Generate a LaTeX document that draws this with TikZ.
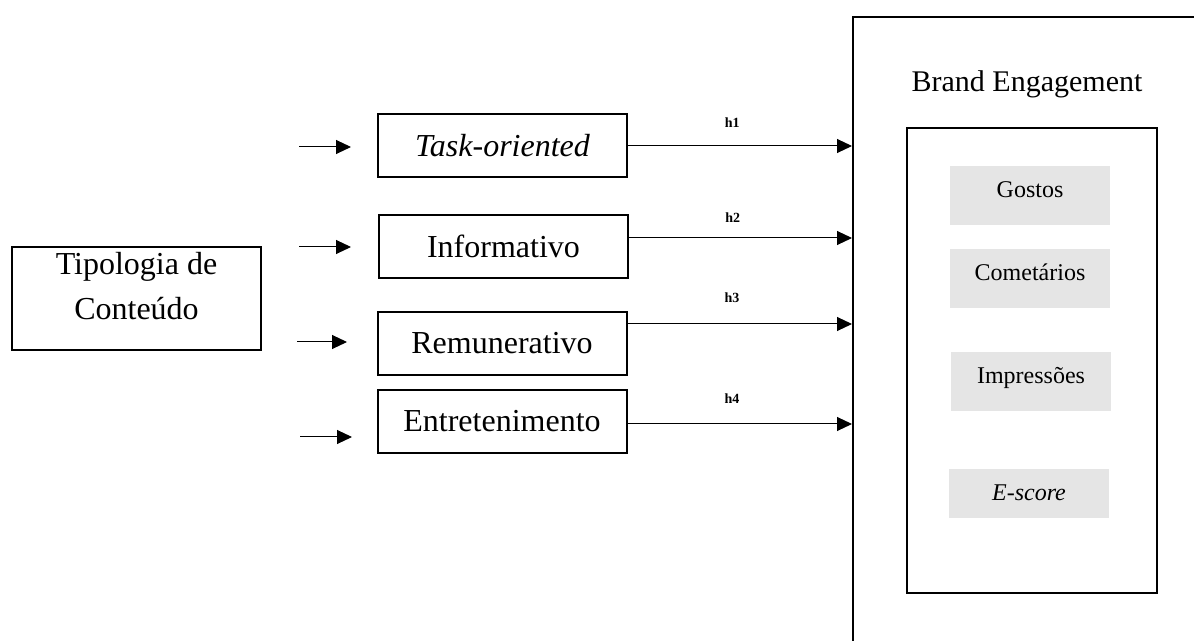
\documentclass[tikz,border=0pt]{standalone}
\usepackage{fontspec}
\setmainfont{Liberation Serif}
\usetikzlibrary{arrows.meta}

\begin{document}
\begin{tikzpicture}[
		x=0.5pt, y=-0.5pt,
		line width=0.5pt,
		>={Triangle[length=7.5pt,width=7pt]},
		box/.style={draw, line width=1pt, inner sep=0pt, minimum width=124.5pt, minimum height=31.5pt, font=\fontsize{16}{22.5}\selectfont},
		metric/.style={fill=black!10, inner sep=0pt, minimum width=80pt, minimum height=29.5pt, font=\fontsize{12}{14}\selectfont, text height=0.7em, text depth=0.54em},
		hlab/.style={above=#1, pos=0.465, inner sep=0pt, font=\fontsize{7}{8}\selectfont\bfseries},
	]
		\useasboundingbox (0,0) rectangle (1194,641);
		\clip (0,0) rectangle (1194,641);

		% content types
		\node[box, minimum height=51.5pt, align=center, text height=33.5pt, text depth=12pt] (tipo) at (136.5,298.5) {Tipologia de\\Conteúdo};
		\node[box] (task) at (502.5,146) {\textit{Task-oriented}};
		\node[box] (info) at (503.5,246.5) {Informativo};
		\node[box] (remun) at (502,343.5) {Remunerativo};
		\node[box] (entret) at (502,421.5) {Entretenimento};

		% brand engagement
		\node[draw, line width=1.2pt, inner sep=0pt, anchor=north west, minimum width=200pt, minimum height=340pt] (engage) at (852,16) {};
		\node[anchor=base, font=\fontsize{15}{18}\selectfont] (title) at (1027,92) {Brand Engagement};
		\node[draw, line width=1pt, inner sep=0pt, minimum width=125pt, minimum height=232.5pt] (inner) at (1032,360.5) {};
		\node[metric] (gostos) at (1030,195.5) {Gostos};
		\node[metric] (coment) at (1030,278.5) {Cometários};
		\node[metric] (impress) at (1031,381.5) {Impressões};
		\node[metric, minimum height=24.5pt, text height=0.66em, text depth=0pt] (escore) at (1029,493.5) {\textit{E-score}};

		% incoming arrows
		\coordinate (s1) at (299,147);
		\coordinate (e1) at (351,147);
		\coordinate (s2) at (299,247);
		\coordinate (e2) at (351,247);
		\coordinate (s3) at (297,342);
		\coordinate (e3) at (347,342);
		\coordinate (s4) at (300,437);
		\coordinate (e4) at (352,437);
		\draw [->] (s1) -- (e1);
		\draw [->] (s2) -- (e2);
		\draw [->] (s3) -- (e3);
		\draw [->] (s4) -- (e4);

		% hypotheses
		\coordinate (o1) at (task.east);
		\coordinate (o2) at ([yshift=4.25pt]info.east);
		\coordinate (o3) at ([yshift=9.75pt]remun.east);
		\coordinate (o4) at ([yshift=-1.25pt]entret.east);
		\path [->] (o1) edge node[hlab=9pt] {h1} (o1 -| engage.west);
		\path [->] (o2) edge node[hlab=7.5pt] {h2} (o2 -| engage.west);
		\path [->] (o3) edge node[hlab=10.5pt] {h3} (o3 -| engage.west);
		\path [->] (o4) edge node[hlab=10pt] {h4} (o4 -| engage.west);
	\end{tikzpicture}
\end{document}
